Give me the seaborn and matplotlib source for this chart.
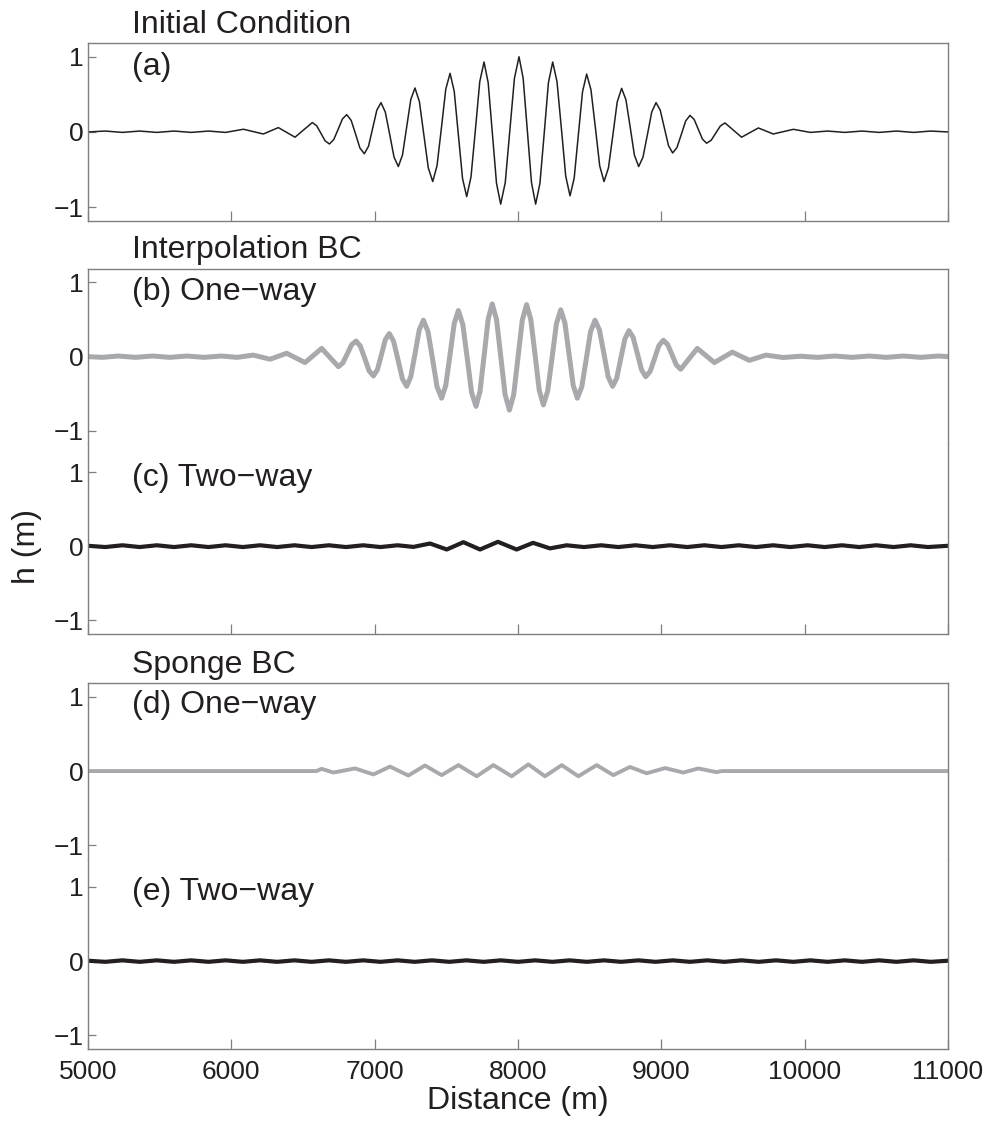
import matplotlib
matplotlib.use("Agg")
import matplotlib.pyplot as plt
import pandas as pd
import seaborn as sns

sns.set_theme(style="white")
plt.rcParams["font.family"] = ["Liberation Sans", "DejaVu Sans"]
plt.rcParams["axes.unicode_minus"] = True

# ---------------------------------------------------------------- data
# (a) initial wave packet: surface elevation h (m) vs distance (m)
a_x = [5000, 5120, 5240, 5360, 5480, 5600, 5720, 5840, 5960,
       6084, 6223, 6328, 6444,
       6565, 6595, 6625, 6654, 6684, 6714, 6745, 6775,
       6805, 6836, 6867, 6897, 6928, 6957, 6986, 7015,
       7044, 7074, 7105, 7135, 7165, 7194, 7223, 7252,
       7281, 7312, 7343, 7374, 7405, 7435, 7466, 7496,
       7526, 7555, 7584, 7613, 7642, 7672, 7703, 7733,
       7763, 7792, 7821, 7850, 7879, 7911, 7943, 7975,
       8007, 8036, 8065, 8094, 8123, 8153, 8183, 8212,
       8242, 8272, 8303, 8333, 8363, 8392, 8421, 8450,
       8479, 8509, 8540, 8570, 8600, 8631, 8662, 8692,
       8723, 8753, 8783, 8812, 8842, 8872, 8903, 8933,
       8963, 8992, 9021, 9050, 9079, 9109, 9140, 9170,
       9200, 9229, 9258, 9287, 9316, 9348, 9380, 9412,
       9444, 9560, 9677, 9781, 9921,
       10040, 10160, 10280, 10400, 10520, 10640, 10760, 10880, 11000]
a_h = [0.0, 0.012, -0.006, 0.012, -0.006, 0.012, -0.006, 0.012, -0.006,
       0.036, -0.027, 0.058, -0.07,
       0.125, 0.083, -0.018, -0.118, -0.16, -0.103, 0.035, 0.173,
       0.23, 0.154, -0.03, -0.214, -0.29, -0.19, 0.05, 0.29,
       0.39, 0.265, -0.035, -0.335, -0.46, -0.307, 0.063, 0.432,
       0.585, 0.403, -0.038, -0.478, -0.66, -0.449, 0.06, 0.569,
       0.78, 0.54, -0.04, -0.62, -0.86, -0.598, 0.035, 0.668,
       0.93, 0.653, -0.015, -0.683, -0.96, -0.673, 0.02, 0.713,
       1.0, 0.713, 0.02, -0.673, -0.96, -0.683, -0.015, 0.653,
       0.93, 0.669, 0.04, -0.589, -0.85, -0.613, -0.04, 0.533,
       0.77, 0.561, 0.055, -0.451, -0.66, -0.478, -0.04, 0.398,
       0.58, 0.428, 0.06, -0.308, -0.46, -0.335, -0.035, 0.265,
       0.39, 0.292, 0.055, -0.182, -0.28, -0.207, -0.03, 0.147,
       0.22, 0.166, 0.035, -0.096, -0.15, -0.11, -0.015, 0.08,
       0.12, -0.07, 0.053, -0.027, 0.035,
       -0.006, 0.012, -0.006, 0.012, -0.006, 0.012, -0.006, 0.012, 0.0]

# (b) interpolation BC, one-way nesting
b_x = [5000, 5100, 5210, 5330, 5450, 5570, 5690, 5810, 5930, 6040,
       6153, 6270, 6386, 6514, 6630,
       6747, 6778, 6809, 6839, 6870, 6900, 6931, 6961,
       6991, 7019, 7047, 7074, 7102, 7132, 7163, 7193,
       7223, 7252, 7282, 7311, 7340, 7372, 7404, 7435,
       7467, 7496, 7526, 7555, 7584, 7615, 7646, 7676,
       7707, 7735, 7764, 7792, 7820, 7850, 7880, 7910,
       7940, 7970, 8000, 8030, 8060, 8089, 8119, 8148,
       8177, 8207, 8238, 8268, 8298, 8327, 8356, 8385,
       8414, 8445, 8476, 8506, 8537, 8568, 8599, 8629,
       8660, 8689, 8717, 8746, 8774, 8803, 8833, 8862,
       8891, 8922, 8953, 8983, 9014, 9044, 9075, 9105,
       9135, 9251, 9370, 9495, 9614, 9730,
       9850, 9970, 10090, 10210, 10330, 10450, 10570, 10690,
       10810, 10930, 11000]
b_h = [0.0, -0.01, 0.008, -0.01, 0.008, -0.01, 0.008, -0.01, 0.008, -0.01,
       0.02, -0.035, 0.045, -0.08, 0.11,
       -0.135, -0.085, 0.038, 0.16, 0.21, 0.141, -0.025, -0.191,
       -0.26, -0.177, 0.025, 0.227, 0.31, 0.206, -0.045, -0.296,
       -0.40, -0.27, 0.045, 0.36, 0.49, 0.336, -0.035, -0.406,
       -0.56, -0.387, 0.03, 0.447, 0.62, 0.431, -0.025, -0.481,
       -0.67, -0.468, 0.02, 0.508, 0.71, 0.501, -0.005, -0.511,
       -0.72, -0.512, -0.01, 0.492, 0.70, 0.502, 0.025, -0.452,
       -0.65, -0.463, -0.01, 0.443, 0.63, 0.456, 0.035, -0.386,
       -0.56, -0.406, -0.035, 0.336, 0.49, 0.36, 0.045, -0.27,
       -0.40, -0.29, -0.025, 0.24, 0.35, 0.259, 0.04, -0.179,
       -0.27, -0.198, -0.025, 0.148, 0.22, 0.163, 0.025, -0.113,
       -0.17, 0.11, -0.08, 0.06, -0.05, 0.02,
       -0.012, 0.005, -0.01, 0.008, -0.01, 0.008, -0.01, 0.008,
       -0.01, 0.008, 0.0]

# (c) interpolation BC, two-way nesting
c_x = [5000, 5120, 5240, 5360, 5480, 5600, 5720, 5840, 5960, 6080,
       6200, 6320, 6440, 6560, 6680, 6800, 6920, 7040, 7160, 7270,
       7386, 7503, 7619, 7735, 7860, 7990, 8105, 8223, 8340, 8460,
       8580, 8700, 8820, 8940, 9060, 9180, 9300, 9420, 9540, 9660,
       9780, 9900, 10020, 10140, 10260, 10380, 10500, 10620, 10740,
       10860, 11000]
c_h = [0.005, -0.012, 0.012, -0.012, 0.012, -0.012, 0.012, -0.012, 0.012, -0.012,
       0.012, -0.012, 0.012, -0.012, 0.012, -0.012, 0.012, -0.012, 0.012, -0.01,
       0.036, -0.045, 0.054, -0.045, 0.059, -0.045, 0.045, -0.03, 0.012, -0.012,
       0.012, -0.012, 0.012, -0.012, 0.012, -0.012, 0.012, -0.012, 0.012, -0.012,
       0.012, -0.012, 0.012, -0.012, 0.012, -0.012, 0.012, -0.012, 0.012,
       -0.012, 0.005]

# (d) sponge BC, one-way nesting
d_x = [5000, 6595, 6630, 6712, 6863, 6991, 7107, 7235, 7351, 7467,
       7584, 7712, 7828, 7956, 8072, 8188, 8305, 8421, 8549, 8665,
       8781, 8898, 9026, 9153, 9258, 9386, 9420, 11000]
d_h = [0.0, 0.0, 0.03, -0.02, 0.035, -0.045, 0.06, -0.06, 0.075, -0.055,
       0.08, -0.07, 0.08, -0.07, 0.09, -0.07, 0.08, -0.07, 0.08, -0.055,
       0.055, -0.03, 0.04, -0.02, 0.035, -0.015, 0.0, 0.0]

# (e) sponge BC, two-way nesting
e_x = [5000, 5120, 5240, 5360, 5480, 5600, 5720, 5840, 5960, 6080,
       6200, 6320, 6440, 6560, 6680, 6800, 6920, 7040, 7160, 7280,
       7400, 7520, 7640, 7760, 7880, 8000, 8120, 8240, 8360, 8480,
       8600, 8720, 8840, 8960, 9080, 9200, 9320, 9440, 9560, 9680,
       9800, 9920, 10040, 10160, 10280, 10400, 10520, 10640, 10760,
       10880, 11000]
e_h = [0.005, -0.01, 0.01, -0.01, 0.01, -0.01, 0.01, -0.01, 0.01, -0.01,
       0.01, -0.01, 0.01, -0.01, 0.01, -0.01, 0.01, -0.01, 0.01, -0.01,
       0.01, -0.01, 0.01, -0.01, 0.01, -0.01, 0.01, -0.01, 0.01, -0.01,
       0.01, -0.01, 0.01, -0.01, 0.01, -0.01, 0.01, -0.01, 0.01, -0.01,
       0.01, -0.01, 0.01, -0.01, 0.01, -0.01, 0.01, -0.01, 0.01,
       -0.01, 0.005]

panel_labels = ["(a)", "(b) One\u2212way", "(c) Two\u2212way",
                "(d) One\u2212way", "(e) Two\u2212way"]
group_titles = ["Initial Condition", "Interpolation BC", "Sponge BC"]
x_ticks = [5000, 6000, 7000, 8000, 9000, 10000, 11000]
y_ticks = [-1, 0, 1]

# ---------------------------------------------------------------- style
GRAY = "#a7a9ac"
BLACK = "#231f20"
SPINE = "#7f7f7f"
TICK_FS = 19
TEXT_FS = 23

fig = plt.figure(figsize=(9.88, 11.23), dpi=100)
L, W = 0.0891, 0.8704
ax_a = fig.add_axes([L, 0.8035, W, 0.1580])
ax_b = fig.add_axes([L, 0.6044, W, 0.1561])
ax_c = fig.add_axes([L, 0.4354, W, 0.1690])
ax_d = fig.add_axes([L, 0.2353, W, 0.1562])
ax_e = fig.add_axes([L, 0.0656, W, 0.1697])

series = [
    (ax_a, a_x, a_h, BLACK, 1.1, (-1.18, 1.18), panel_labels[0], 0.87),
    (ax_b, b_x, b_h, GRAY, 3.6, (-1.18, 1.18), panel_labels[1], 0.87),
    (ax_c, c_x, c_h, BLACK, 3.0, (-1.19, 1.38), panel_labels[2], 0.92),
    (ax_d, d_x, d_h, GRAY, 2.8, (-1.18, 1.18), panel_labels[3], 0.885),
    (ax_e, e_x, e_h, BLACK, 3.0, (-1.19, 1.38), panel_labels[4], 0.93),
]

for ax, xs, hs, col, lw, ylim, lab, ylab in series:
    df = pd.DataFrame({"Distance": xs, "h": hs})
    sns.lineplot(data=df, x="Distance", y="h", ax=ax, color=col,
                 linewidth=lw, estimator=None, sort=False)
    for ln in ax.get_lines():
        ln.set_solid_joinstyle("round")
    ax.set_xlim(5000, 11000)
    ax.set_ylim(*ylim)
    ax.set_xlabel("")
    ax.set_ylabel("")
    ax.set_yticks(y_ticks)
    ax.set_yticklabels(["\u22121", "0", "1"])
    ax.tick_params(axis="y", direction="in", length=6, width=0.9,
                   color=SPINE, labelsize=TICK_FS, labelcolor=BLACK, pad=3,
                   left=True, right=False)
    for s in ax.spines.values():
        s.set_color(SPINE)
        s.set_linewidth(1.0)
    ax.text(5305, ylab, lab, fontsize=TEXT_FS, color=BLACK,
            ha="left", va="center")
    ax.set_facecolor("white")

# bottom ticks on panels that close a box
for ax in (ax_a, ax_c, ax_e):
    ax.set_xticks(x_ticks)
    ax.tick_params(axis="x", direction="in", length=7, width=0.9,
                   color=SPINE, labelsize=TICK_FS, labelcolor=BLACK, pad=8,
                   bottom=True, top=False)
for ax in (ax_a, ax_c):
    ax.set_xticklabels([])
ax_e.set_xticklabels([str(v) for v in x_ticks])

# stacked pairs share a continuous frame
for ax in (ax_b, ax_d):
    ax.spines["bottom"].set_visible(False)
    ax.set_xticks([])
for ax in (ax_c, ax_e):
    ax.spines["top"].set_visible(False)

# group titles and axis labels
fig.text(132 / 988, 1 - 33 / 1123, group_titles[0], fontsize=TEXT_FS,
         color=BLACK, ha="left", va="baseline")
fig.text(132 / 988, 1 - 258 / 1123, group_titles[1], fontsize=TEXT_FS,
         color=BLACK, ha="left", va="baseline")
fig.text(132 / 988, 1 - 673 / 1123, group_titles[2], fontsize=TEXT_FS,
         color=BLACK, ha="left", va="baseline")
fig.text(518 / 988, 1 - 1109 / 1123, "Distance (m)", fontsize=TEXT_FS,
         color=BLACK, ha="center", va="baseline")
fig.text(27 / 988, 1 - 547 / 1123, "h (m)", fontsize=TEXT_FS,
         color=BLACK, ha="center", va="center", rotation=90)

fig.savefig("out.png", dpi=100, facecolor="white")
